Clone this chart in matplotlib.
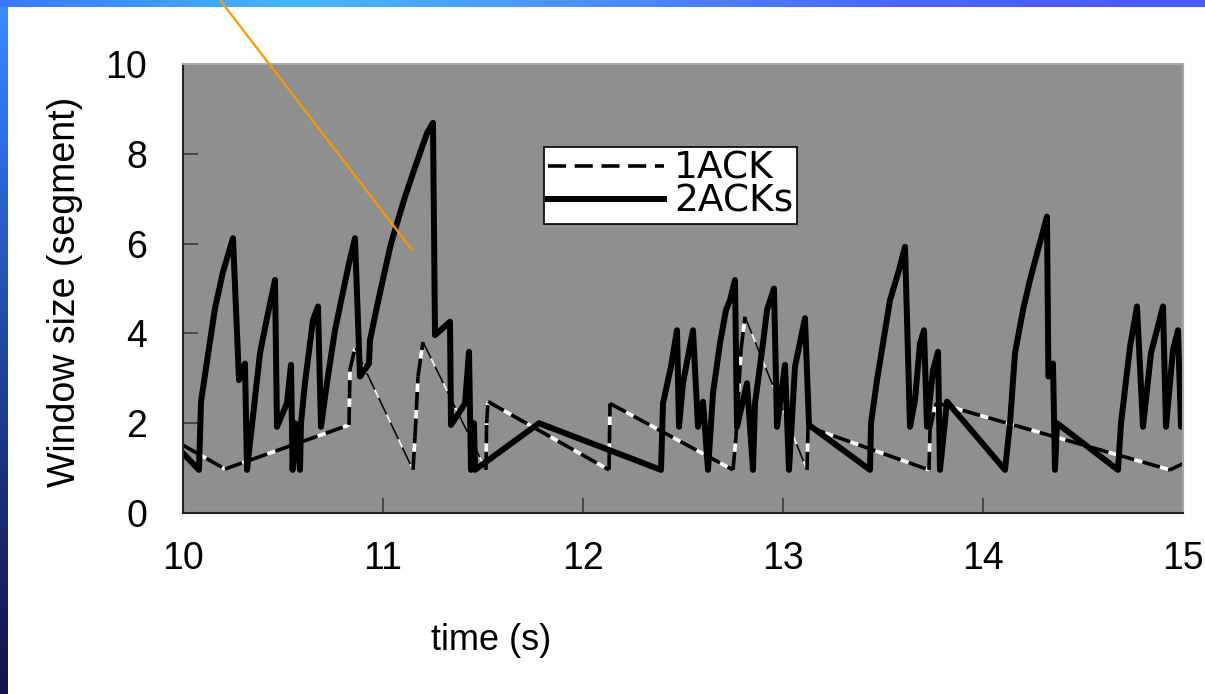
import numpy as np
import matplotlib
matplotlib.use("Agg")
import matplotlib.pyplot as plt
from matplotlib.colors import LinearSegmentedColormap
from matplotlib.lines import Line2D

# window size traces (time in s, window in segments)
t_1ack = [10.00, 10.21, 10.83, 10.835, 10.86, 11.15, 11.16, 11.175, 11.20,
          11.515, 11.518, 11.525, 12.13, 12.135, 12.75, 12.765, 12.79, 12.81,
          13.12, 13.125, 13.73, 13.735, 13.76, 13.77, 14.935, 15.00]
w_1ack = [1.51, 0.98, 1.96, 3.20, 3.67, 0.96, 1.70, 3.04, 3.81,
          0.96, 2.00, 2.48, 0.96, 2.44, 0.96, 1.70, 3.63, 4.37,
          0.96, 1.92, 0.96, 1.85, 2.37, 2.45, 0.96, 1.10]

t_2acks = [10.00, 10.08, 10.09, 10.135, 10.16, 10.20, 10.25, 10.28, 10.31, 10.32,
           10.385, 10.42, 10.46, 10.47, 10.52, 10.54, 10.548, 10.56, 10.585, 10.59,
           10.61, 10.65, 10.675, 10.69, 10.72, 10.76, 10.795, 10.83, 10.86, 10.885,
           10.93, 10.935, 10.97, 11.01, 11.04, 11.08, 11.11, 11.15, 11.19, 11.22,
           11.25, 11.26, 11.335, 11.34, 11.41, 11.43, 11.44, 11.455, 11.46, 11.78,
           12.39, 12.40, 12.44, 12.47, 12.48, 12.50, 12.55, 12.575, 12.60, 12.625,
           12.65, 12.685, 12.715, 12.735, 12.76, 12.77, 12.82, 12.85, 12.86, 12.90,
           12.92, 12.955, 12.97, 13.01, 13.03, 13.06, 13.11, 13.13, 13.435, 13.44,
           13.47, 13.50, 13.535, 13.58, 13.61, 13.635, 13.66, 13.685, 13.705, 13.72,
           13.75, 13.775, 13.785, 13.82, 14.11, 14.135, 14.16, 14.20, 14.235, 14.275,
           14.32, 14.327, 14.35, 14.36, 14.37, 14.675, 14.69, 14.735, 14.77, 14.80,
           14.84, 14.90, 14.915, 14.95, 14.975, 14.99, 15.00]
w_2acks = [1.33, 0.96, 2.48, 3.82, 4.56, 5.37, 6.12, 2.96, 3.33, 0.96,
           3.56, 4.34, 5.19, 1.92, 2.45, 3.30, 0.96, 2.00, 0.96, 2.00,
           2.90, 4.30, 4.60, 1.92, 2.90, 4.07, 4.82, 5.56, 6.12, 3.04,
           3.33, 3.85, 4.60, 5.41, 6.00, 6.60, 7.04, 7.57, 8.08, 8.46,
           8.69, 3.96, 4.26, 1.96, 2.44, 3.59, 0.96, 2.00, 0.96, 2.00,
           0.96, 2.44, 3.26, 4.07, 1.92, 2.89, 4.07, 1.92, 2.48, 0.96,
           2.67, 3.78, 4.52, 4.74, 5.19, 1.92, 2.89, 0.96, 2.44, 3.78,
           4.52, 5.00, 1.92, 3.30, 0.96, 3.26, 4.34, 1.96, 0.96, 2.00,
           2.96, 3.78, 4.74, 5.41, 5.93, 1.92, 2.52, 3.78, 4.07, 1.92,
           3.18, 3.59, 0.96, 2.48, 0.96, 2.00, 3.56, 4.52, 5.19, 5.86,
           6.60, 3.04, 3.33, 0.96, 2.00, 0.96, 2.00, 3.70, 4.60, 1.92,
           3.56, 4.60, 1.92, 3.63, 4.07, 1.92, 2.90]

x_ticks = [10, 11, 12, 13, 14, 15]
y_ticks = [0, 2, 4, 6, 8, 10]

W, H = 1205, 694
fig = plt.figure(figsize=(W / 100, H / 100), dpi=100)
fig.patch.set_facecolor("white")

# slide decoration: gradient bands on top and left
top_cmap = LinearSegmentedColormap.from_list(
    "top", ["#3a78ff", "#46b8ff", "#4f8cff", "#4a66ff", "#4a5cff"])
band = fig.add_axes([0, 1 - 7 / H, 1, 7 / H], zorder=0)
band.imshow(np.linspace(0, 1, 256)[None, :], cmap=top_cmap, aspect="auto")
band.axis("off")

left_cmap = LinearSegmentedColormap.from_list(
    "left", ["#3a8cff", "#2a66d8", "#1e48a0", "#182a70", "#13134a"])
side = fig.add_axes([0, 0, 8 / W, 1 - 7 / H], zorder=0)
side.imshow(np.linspace(0, 1, 256)[:, None], cmap=left_cmap, aspect="auto")
side.axis("off")

ax = fig.add_axes([183 / W, 1 - 513 / H, 1000 / W, 449 / H], zorder=2)
ax.set_facecolor("#8f8f8f")

# 1ACK: dashed black on white; the long falling ramps render thin on the slide
for i in range(len(t_1ack) - 1):
    seg_t = t_1ack[i:i + 2]
    seg_w = w_1ack[i:i + 2]
    thin = seg_w[0] - seg_w[1] > 2
    ax.plot(seg_t, seg_w, color="black", lw=1.1 if thin else 2.6,
            dashes=(12, 6) if thin else (5, 2.4), gapcolor="white",
            solid_capstyle="butt")
ax.plot(t_2acks, w_2acks, color="black", lw=4.3, solid_joinstyle="round")

ax.set_xlim(10, 15)
ax.set_ylim(0, 10)
ax.set_xticks(x_ticks)
ax.set_yticks(y_ticks)
ax.tick_params(direction="in", length=11, width=1.1, color="#333333",
               labelsize=27, labelcolor="black")
ax.tick_params(axis="x", pad=20)
ax.tick_params(axis="y", pad=26)
for lab in ax.get_xticklabels() + ax.get_yticklabels():
    lab.set_family("Liberation Sans")

for side_name in ["left", "bottom"]:
    ax.spines[side_name].set_color("#222222")
    ax.spines[side_name].set_linewidth(1.5)
for side_name in ["top", "right"]:
    ax.spines[side_name].set_color("#a8a8a8")
    ax.spines[side_name].set_linewidth(1.5)

ax.set_xlabel("time (s)", fontsize=26, family=["Liberation Sans"], va="center")
ax.xaxis.set_label_coords(0.308, -0.283)
ax.set_ylabel("Window size (segment)", fontsize=27, family=["Liberation Sans"],
              va="center")
ax.yaxis.set_label_coords(-0.118, 0.492)

handles = [Line2D([], [], color="black", lw=2.6, dashes=(5, 2.4)),
           Line2D([], [], color="black", lw=4.3)]
leg = ax.legend(handles, ["1ACK", "2ACKs"], loc="upper left",
                bbox_to_anchor=(0.361, 0.815), borderaxespad=0,
                prop={"family": "DejaVu Sans", "size": 27},
                handlelength=3.1, handletextpad=0.27, labelspacing=-0.08,
                borderpad=0.1, fancybox=False, framealpha=1)
leg.get_frame().set_edgecolor("black")
leg.get_frame().set_linewidth(1.2)

# orange callout pointer coming from above the chart
ax.annotate("", xy=(11.1435, 5.87), xycoords="data",
            xytext=(220 / W, 1.0), textcoords="figure fraction",
            arrowprops=dict(arrowstyle="-", color="#f59a00", lw=1.6,
                            shrinkA=0, shrinkB=0),
            annotation_clip=False)

fig.savefig("out.png", dpi=100)
